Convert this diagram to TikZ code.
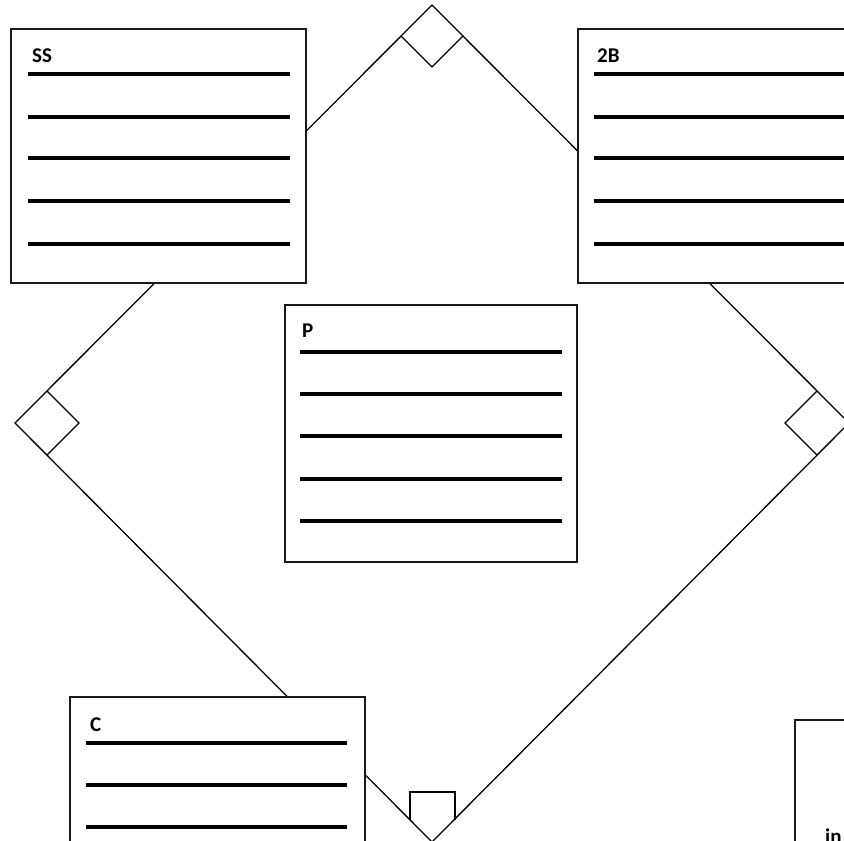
\documentclass[tikz,border=0pt]{standalone}
\usepackage{fontspec}
\setmainfont{Carlito}
\begin{document}
\begin{tikzpicture}[x=1pt,y=-1pt,
  field/.style={line width=1.3pt,black,line join=miter},
  card/.style={draw=black!90,line width=1.6pt,fill=white},
  rule/.style={line width=3.3pt,black},
  lbl/.style={anchor=base west,inner sep=0pt,font=\fontsize{21}{25}\selectfont\bfseries}]
\useasboundingbox (0,0) rectangle (844,841);
% infield corners (named)
\coordinate (second) at (432,5);
\coordinate (third) at (15,423);
\coordinate (first) at (849,423);
\coordinate (home) at (432,842);
% base squares
\coordinate (s2l) at (401,36);
\coordinate (s2r) at (463,36);
\coordinate (s2b) at (432,67);
\coordinate (s3t) at (47,391);
\coordinate (s3r) at (79,423);
\coordinate (s3b) at (47,455);
\coordinate (s1t) at (817,391);
\coordinate (s1l) at (785,423);
\coordinate (s1b) at (817,455);
\coordinate (hpl) at (410,820);
\coordinate (hpr) at (455,820);
\coordinate (hptl) at (410,792);
\coordinate (hptr) at (455,792);
% infield lines
\draw[field] (home) -- (third) -- (second) -- (first) -- cycle;
\draw[field] (s2l) -- (s2b) -- (s2r);
\draw[field] (s3t) -- (s3r) -- (s3b);
\draw[field] (s1t) -- (s1l) -- (s1b);
\draw[field] (hpl) -- (hptl) -- (hptr) -- (hpr);
% SS card
\draw[card] (11,29) rectangle (306,283);
\node[lbl] (ss) at (32,62) {SS};
\foreach \y in {74,117,158,201,244} \draw[rule] (28,\y) -- (290,\y);
% 2B card
\draw[card] (578,29) rectangle (860,283);
\node[lbl] (tb) at (597,62) {2B};
\foreach \y in {74,117,158,201,244} \draw[rule] (594,\y) -- (860,\y);
% P card
\draw[card] (285,305) rectangle (577,562);
\node[lbl] (p) at (302,337) {P};
\foreach \y in {352,394,436,479,521} \draw[rule] (300,\y) -- (562,\y);
% C card
\draw[card] (70,697) rectangle (365,870);
\node[lbl] (c) at (90,731) {C};
\foreach \y in {743,785,827} \draw[rule] (86,\y) -- (347,\y);
% bottom-right card
\draw[card] (795,720) rectangle (870,870);
\node[lbl] (in) at (825,843) {in};
\end{tikzpicture}
\end{document}
